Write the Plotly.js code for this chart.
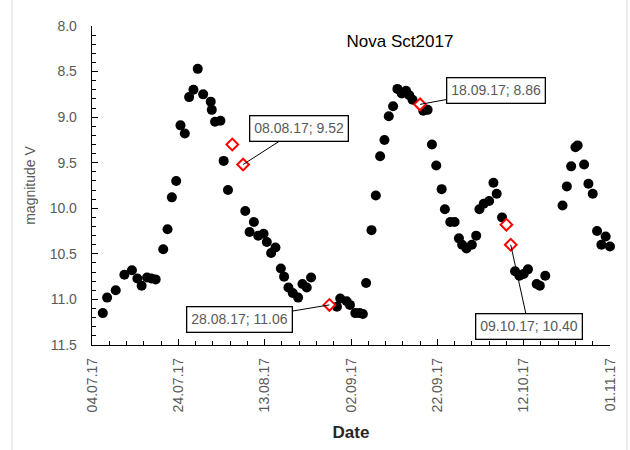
<!DOCTYPE html>
<html>
<head>
<meta charset="utf-8">
<script src="https://cdn.plot.ly/plotly-3.0.1.min.js"></script>
<style>html,body{margin:0;padding:0;background:#fff;}#chart{width:630px;height:450px;}</style>
</head>
<body>
<div id="chart"></div>
<script>
// Observations (black dots)
const obsDates = [
  '2017-07-06 12:00','2017-07-07 12:00','2017-07-09 12:00','2017-07-11 12:00','2017-07-13 06:00',
  '2017-07-14 12:00','2017-07-15 12:00','2017-07-16 18:00','2017-07-17 18:00','2017-07-18 18:00',
  '2017-07-20 12:00','2017-07-21 12:00','2017-07-22 12:00','2017-07-23 12:00','2017-07-24 12:00',
  '2017-07-25 12:00','2017-07-26 12:00','2017-07-27 12:00','2017-07-28 12:00','2017-07-29 18:00',
  '2017-07-31 12:00','2017-07-31 18:00','2017-08-01 12:00','2017-08-02 18:00','2017-08-03 12:00',
  '2017-08-04 12:00','2017-08-08 12:00','2017-08-09 12:00','2017-08-10 12:00','2017-08-11 12:00',
  '2017-08-12 18:00','2017-08-13 12:00','2017-08-14 12:00','2017-08-15 12:00','2017-08-16 18:00',
  '2017-08-17 12:00','2017-08-18 12:00','2017-08-19 12:00','2017-08-20 18:00','2017-08-21 18:00',
  '2017-08-22 18:00','2017-08-23 18:00','2017-08-29 18:00','2017-08-30 12:00','2017-09-01 00:00',
  '2017-09-01 18:00','2017-09-03 00:00','2017-09-04 00:00','2017-09-04 18:00','2017-09-05 12:00',
  '2017-09-06 18:00','2017-09-07 18:00','2017-09-08 18:00','2017-09-09 18:00','2017-09-10 18:00',
  '2017-09-11 18:00','2017-09-12 18:00','2017-09-13 18:00','2017-09-14 18:00','2017-09-15 12:00',
  '2017-09-16 06:00','2017-09-18 18:00','2017-09-19 18:00','2017-09-20 18:00','2017-09-21 18:00',
  '2017-09-23 00:00','2017-09-23 18:00','2017-09-25 00:00','2017-09-26 00:00','2017-09-27 00:00',
  '2017-09-27 18:00','2017-09-28 18:00','2017-09-30 00:00','2017-10-01 00:00','2017-10-01 18:00',
  '2017-10-02 18:00','2017-10-04 00:00','2017-10-05 00:00','2017-10-05 18:00','2017-10-07 00:00',
  '2017-10-10 00:00','2017-10-11 00:00','2017-10-12 00:00','2017-10-13 00:00','2017-10-15 00:00',
  '2017-10-15 18:00','2017-10-17 00:00','2017-10-21 00:00','2017-10-22 00:00','2017-10-23 00:00',
  '2017-10-24 00:00','2017-10-24 12:00','2017-10-26 00:00','2017-10-27 00:00','2017-10-28 00:00',
  '2017-10-29 00:00','2017-10-30 00:00','2017-10-31 00:00','2017-11-01 00:00'
];
const obsMags = [
  11.15,10.98,10.90,10.73,10.68,
  10.77,10.85,10.76,10.77,10.78,
  10.45,10.23,9.88,9.70,9.09,
  9.18,8.78,8.70,8.47,8.75,
  8.83,8.92,9.05,9.04,9.48,
  9.80,10.03,10.26,10.15,10.30,
  10.28,10.37,10.49,10.43,10.66,
  10.75,10.87,10.93,10.98,10.83,
  10.87,10.76,11.08,10.99,11.02,
  11.06,11.15,11.15,11.16,10.82,
  10.24,9.86,9.43,9.25,8.99,
  8.88,8.69,8.74,8.71,8.76,
  8.81,8.93,8.92,9.30,9.53,
  9.79,10.01,10.15,10.15,10.33,
  10.40,10.44,10.40,10.30,10.01,
  9.95,9.92,9.72,9.84,10.10,
  10.69,10.74,10.72,10.67,10.83,
  10.85,10.74,9.97,9.76,9.54,
  9.33,9.31,9.52,9.73,9.84,
  10.25,10.40,10.31,10.42
];

// Highlighted observations (red diamonds)
const redDates = ['2017-08-05 12:00','2017-08-08','2017-08-28','2017-09-18','2017-10-08','2017-10-09'];
const redMags  = [9.30, 9.52, 11.06, 8.86, 10.18, 10.40];

// Callout labels
const labelDates = ['2017-08-08','2017-08-28','2017-09-18','2017-10-09'];
const labelMags  = [9.52, 11.06, 8.86, 10.40];
const labelTexts = ['08.08.17; 9.52','28.08.17; 11.06','18.09.17; 8.86','09.10.17; 10.40'];
const labelOffsets = [[56,-36],[-90,15],[76,-14],[18,82]];

const tickVals = ['2017-07-04','2017-07-24','2017-08-13','2017-09-02','2017-09-22','2017-10-12','2017-11-01'];

const FONT = 'Liberation Sans, Arial, sans-serif';
const GREY = '#595959';

const traces = [
  {
    x: obsDates, y: obsMags, type: 'scatter', mode: 'markers',
    marker: {color: '#000000', size: 10, symbol: 'circle'},
    showlegend: false, cliponaxis: false
  },
  {
    x: redDates, y: redMags, type: 'scatter', mode: 'markers',
    marker: {color: '#ffffff', size: 9, symbol: 'diamond', line: {color: '#ff0000', width: 2}},
    showlegend: false, cliponaxis: false
  }
];

const annotations = labelTexts.map((t, i) => ({
  x: labelDates[i], y: labelMags[i], xref: 'x', yref: 'y',
  text: t, showarrow: true, arrowhead: 0, arrowwidth: 1, arrowcolor: '#000000',
  ax: labelOffsets[i][0], ay: labelOffsets[i][1],
  bordercolor: '#000000', borderwidth: 1.3, borderpad: 4, bgcolor: '#ffffff',
  font: {family: FONT, size: 14, color: GREY}
}));

const layout = {
  width: 630, height: 450,
  margin: {l: 92, r: 20, t: 26, b: 105},
  paper_bgcolor: '#ffffff', plot_bgcolor: '#ffffff',
  font: {family: FONT, color: GREY},
  title: {
    text: 'Nova Sct2017', font: {family: FONT, size: 17, color: '#000000'},
    x: 400/630, xref: 'container', xanchor: 'center', y: 1 - 41/450, yanchor: 'middle'
  },
  xaxis: {
    type: 'date',
    range: ['2017-07-04', '2017-11-01'],
    tickmode: 'array', tickvals: tickVals, tickformat: '%d.%m.%y',
    tickangle: -90,
    ticks: 'inside', ticklen: 6, tickwidth: 1, tickcolor: '#000000',
    minor: {dtick: 4*86400000, tick0: '2017-07-04', ticks: 'inside', ticklen: 4, tickwidth: 1, tickcolor: '#000000', showgrid: false},
    showline: true, linecolor: '#000000', linewidth: 1.3, mirror: false,
    showgrid: false, zeroline: false,
    tickfont: {family: FONT, size: 14, color: GREY},
    ticklabelstandoff: 6,
    title: {text: '<b>Date</b>', font: {family: FONT, size: 17, color: '#262626'}, standoff: 14}
  },
  yaxis: {
    range: [11.5, 8.0],
    tick0: 8, dtick: 0.5, tickformat: '.1f',
    ticks: 'inside', ticklen: 6, tickwidth: 1, tickcolor: '#000000',
    minor: {dtick: 0.1, ticks: 'inside', ticklen: 4, tickwidth: 1, tickcolor: '#000000', showgrid: false},
    showline: true, linecolor: '#000000', linewidth: 1.3, mirror: false,
    showgrid: false, zeroline: false,
    tickfont: {family: FONT, size: 14, color: GREY},
    ticklabelstandoff: 11,
    title: {text: 'magnitude V', font: {family: FONT, size: 14, color: GREY}, standoff: 10}
  },
  annotations: annotations,
  shapes: [
    {type: 'line', xref: 'paper', yref: 'paper', x0: (12-92)/518, x1: (12-92)/518, y0: -105/319, y1: 26/319 + 1, line: {color: '#d9d9d9', width: 1}},
    {type: 'line', xref: 'paper', yref: 'paper', x0: (627-92)/518, x1: (627-92)/518, y0: -105/319, y1: 26/319 + 1, line: {color: '#d9d9d9', width: 1}}
  ]
};

Plotly.newPlot('chart', traces, layout, {displayModeBar: false, staticPlot: true});
</script>
</body>
</html>
